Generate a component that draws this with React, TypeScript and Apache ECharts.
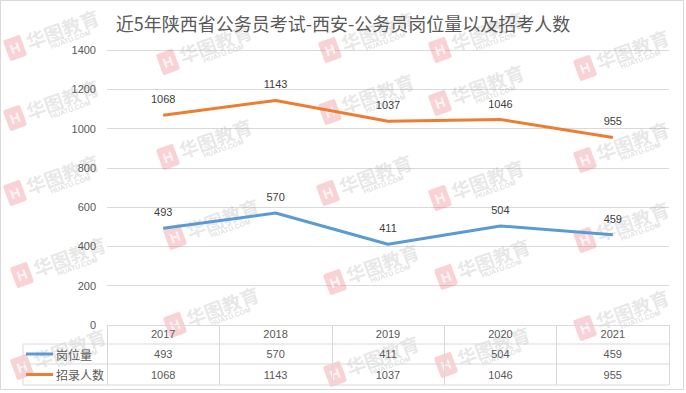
import React, { useEffect, useRef } from "react";
import * as echarts from "echarts";

const TITLE = "近5年陕西省公务员考试-西安-公务员岗位量以及招考人数";
const CATEGORIES = ["2017", "2018", "2019", "2020", "2021"];
const POSITIONS = [493, 570, 411, 504, 459];
const RECRUITS = [1068, 1143, 1037, 1046, 955];
const SERIES_NAMES = ["岗位量", "招录人数"];
const SERIES_COLORS = ["#5B9BD5", "#ED7D31"];
const Y_MIN = 0;
const Y_MAX = 1400;
const Y_INTERVAL = 200;
const WATERMARKS: [number, number][] = [
  [15, 48], [168, 62], [330, 50], [440, 50], [330, 112], [440, 103],
  [585, 68], [168, 157], [15, 193], [328, 193], [440, 198], [585, 160],
  [175, 237], [22, 275], [335, 282], [446, 277], [585, 240], [175, 325],
  [585, 328], [22, 367], [335, 374], [446, 365], [15, 118],
];

const FONT = '"Liberation Sans", "Noto Sans CJK SC", sans-serif';
const TEXT_COLOR = "#595959";
const LINE_COLOR = "#d9d9d9";

export default function App() {
  const ref = useRef<HTMLDivElement>(null);
  useEffect(() => {
    document.body.style.margin = "0";
    if (!ref.current) return;
    const chart = echarts.init(ref.current, undefined, { renderer: "svg" });
    const W = 686;
    const H = 393;
    const gridLeft = 107;
    const gridRight = 17;
    const gridTop = 50;
    const gridBottom = 68;
    const seriesData = [POSITIONS, RECRUITS];

    chart.setOption({
      animation: false,
      backgroundColor: "#ffffff",
      title: {
        text: TITLE,
        left: "center",
        top: 9,
        textStyle: { fontSize: 18, fontWeight: "normal", color: TEXT_COLOR, fontFamily: '"Noto Sans CJK SC", sans-serif' },
      },
      grid: { left: gridLeft, right: gridRight, top: gridTop, bottom: gridBottom, containLabel: false, outerBoundsMode: "none" },
      xAxis: {
        type: "category",
        data: CATEGORIES,
        boundaryGap: true,
        axisLine: { show: true, lineStyle: { color: LINE_COLOR, width: 1 } },
        axisTick: { show: true, inside: false, length: 60, lineStyle: { color: LINE_COLOR } },
        axisLabel: { margin: 3, fontSize: 11, color: TEXT_COLOR, fontFamily: FONT },
      },
      yAxis: {
        type: "value",
        min: Y_MIN,
        max: Y_MAX,
        interval: Y_INTERVAL,
        axisLine: { show: false },
        axisTick: { show: false },
        axisLabel: { margin: 11, fontSize: 11, color: TEXT_COLOR, fontFamily: FONT, formatter: (v: number) => String(v) },
        splitLine: { lineStyle: { color: LINE_COLOR, width: 1 } },
      },
      series: SERIES_NAMES.map((name, i) => ({
        name,
        type: "line",
        data: seriesData[i],
        symbol: "circle",
        symbolSize: 1,
        showSymbol: true,
        lineStyle: { color: SERIES_COLORS[i], width: 3 },
        itemStyle: { color: SERIES_COLORS[i] },
        label: { show: true, position: "top", distance: 10, fontSize: 11, color: "#404040", fontFamily: FONT },
        z: 3,
      })),
    });

    const xs = CATEGORIES.map((c) => chart.convertToPixel({ xAxisIndex: 0 }, c) as number);
    const axisY = H - gridBottom;
    const row1 = axisY + 19;
    const row2 = row1 + 20;
    const row3 = row2 + 21;
    const tableLeft = 23;
    const tableRight = W - gridRight;

    const graphics: any[] = [
      { type: "rect", shape: { x: 0.5, y: 0.5, width: W - 3, height: H - 4 }, style: { fill: "none", stroke: LINE_COLOR, lineWidth: 1 }, silent: true, z: 0 },
      { type: "line", shape: { x1: tableLeft, y1: row1, x2: tableRight, y2: row1 }, style: { stroke: LINE_COLOR, lineWidth: 1 }, z: 1 },
      { type: "line", shape: { x1: tableLeft, y1: row2, x2: tableRight, y2: row2 }, style: { stroke: LINE_COLOR, lineWidth: 1 }, z: 1 },
      { type: "line", shape: { x1: tableLeft, y1: row3, x2: tableRight, y2: row3 }, style: { stroke: LINE_COLOR, lineWidth: 1 }, z: 1 },
      { type: "line", shape: { x1: tableLeft, y1: row1, x2: tableLeft, y2: row3 }, style: { stroke: LINE_COLOR, lineWidth: 1 }, z: 1 },
    ];
    SERIES_NAMES.forEach((name, i) => {
      const cy = i === 0 ? (row1 + row2) / 2 : (row2 + row3) / 2;
      graphics.push({ type: "line", shape: { x1: 26, y1: cy, x2: 53, y2: cy }, style: { stroke: SERIES_COLORS[i], lineWidth: 3 }, z: 2 });
      graphics.push({ type: "text", style: { text: name, x: 56, y: cy, verticalAlign: "middle", font: '12px "Noto Sans CJK SC", sans-serif', fill: TEXT_COLOR }, z: 2 });
      seriesData[i].forEach((v, j) => {
        graphics.push({ type: "text", style: { text: String(v), x: xs[j], y: cy, align: "center", verticalAlign: "middle", font: `11px ${FONT}`, fill: TEXT_COLOR }, z: 2 });
      });
    });
    WATERMARKS.forEach(([x, y]) => {
      graphics.push({
        type: "group", x, y, rotation: 0.35, silent: true, z: 10,
        children: [
          { type: "rect", shape: { x: -9, y: -11, width: 18, height: 22, r: 2 }, style: { fill: "rgba(232,105,115,0.3)" } },
          { type: "text", style: { text: "H", x: 0, y: 0, align: "center", verticalAlign: "middle", font: "bold 14px sans-serif", fill: "rgba(255,255,255,0.75)" } },
          { type: "text", style: { text: "华图教育", x: 13, y: -2, verticalAlign: "middle", font: 'bold 19px "Noto Sans CJK SC", sans-serif', fill: "rgba(150,150,150,0.24)" } },
          { type: "text", style: { text: "HUATU.COM", x: 34, y: 11, verticalAlign: "middle", font: "bold 7px sans-serif", fill: "rgba(150,150,150,0.3)" } },
        ],
      });
    });
    chart.setOption({ graphic: graphics });
    return () => chart.dispose();
  }, []);
  return <div ref={ref} style={{ width: 686, height: 393 }} />;
}
